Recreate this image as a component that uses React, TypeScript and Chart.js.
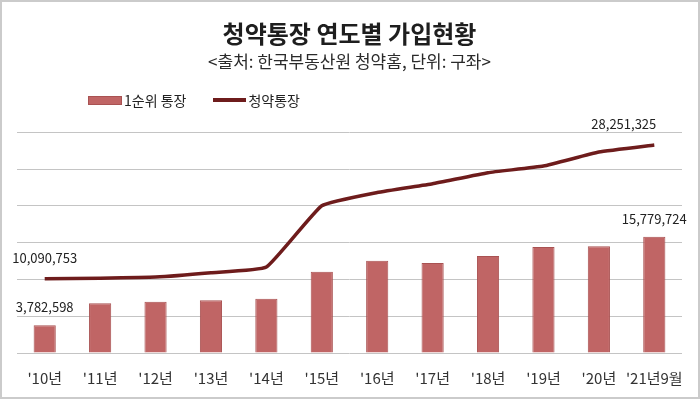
import React, { useEffect, useRef } from "react";
import { Chart, registerables } from "chart.js";

Chart.register(...registerables);

const categories = ["'10년", "'11년", "'12년", "'13년", "'14년", "'15년", "'16년", "'17년", "'18년", "'19년", "'20년", "'21년9월"];
const firstRankValues = [3782598, 6760000, 6950000, 7170000, 7360000, 11050000, 12550000, 12220000, 13170000, 14400000, 14500000, 15779724];
const totalValues = [10090753, 10170000, 10310000, 10900000, 11670000, 20000000, 21800000, 23000000, 24500000, 25400000, 27300000, 28251325];
const barLabel = "1순위 통장";
const lineLabel = "청약통장";
const titleText = "청약통장 연도별 가입현황";
const subtitleText = "<출처: 한국부동산원 청약홈, 단위: 구좌>";

const FONT = "'Noto Sans CJK KR', 'Noto Sans', sans-serif";
const BAR_COLOR = "#c06565";
const BAR_BORDER = "#a95252";
const LINE_COLOR = "#6e1c1c";

const fmt = (v: number) => v.toLocaleString("en-US");

const labelPlugin = {
  id: "endLabels",
  afterDatasetsDraw(chart: any) {
    const ctx = chart.ctx;
    ctx.save();
    ctx.font = `13px ${FONT}`;
    ctx.fillStyle = "#222";
    ctx.textBaseline = "middle";
    const barMeta = chart.getDatasetMeta(0);
    const lineMeta = chart.getDatasetMeta(1);
    const last = categories.length - 1;
    [0, last].forEach((i) => {
      const el = barMeta.data[i];
      ctx.textAlign = "center";
      ctx.fillText(fmt(firstRankValues[i]), el.x, el.y - 18);
    });
    const p0 = lineMeta.data[0];
    ctx.textAlign = "center";
    ctx.fillText(fmt(totalValues[0]), p0.x, p0.y - 21);
    const pl = lineMeta.data[last];
    ctx.textAlign = "right";
    ctx.fillText(fmt(totalValues[last]), pl.x + 2, pl.y - 21);
    ctx.restore();
  },
};

export default function App() {
  const ref = useRef<HTMLCanvasElement | null>(null);
  useEffect(() => {
    if (!ref.current) return;
    const chart = new Chart(ref.current, {
      data: {
        labels: categories,
        datasets: [
          {
            type: "bar",
            label: barLabel,
            data: firstRankValues,
            backgroundColor: BAR_COLOR,
            borderColor: BAR_BORDER,
            borderWidth: 1,
            barPercentage: 0.4,
            categoryPercentage: 1,
            order: 1,
          },
          {
            type: "line",
            label: lineLabel,
            data: totalValues,
            borderColor: LINE_COLOR,
            borderWidth: 3.5,
            pointRadius: 0,
            tension: 0.12,
            fill: false,
            order: 0,
          },
        ],
      } as any,
      options: {
        responsive: true,
        maintainAspectRatio: false,
        animation: false,
        layout: { padding: { left: 17, right: 18, top: 0, bottom: -4 } },
        plugins: {
          legend: { display: false },
          tooltip: { enabled: false },
          title: {
            display: true,
            text: titleText,
            color: "#1e1e1e",
            font: { family: FONT, size: 24, weight: "bold" },
            padding: { top: 19, bottom: 4 },
          },
          subtitle: {
            display: true,
            text: subtitleText,
            color: "#2a2a2a",
            font: { family: FONT, size: 17 },
            padding: { top: 0, bottom: 60 },
          },
        },
        scales: {
          x: {
            grid: { display: false, drawTicks: false },
            border: { display: false },
            ticks: { color: "#333", font: { family: FONT, size: 15 }, padding: 16, maxRotation: 0, autoSkip: false },
          },
          y: {
            min: 0,
            max: 30000000,
            ticks: { display: false, stepSize: 5000000 },
            grid: { color: "#c4c4c4", lineWidth: 1, drawTicks: false },
            border: { display: false },
          },
        },
      } as any,
      plugins: [labelPlugin],
    });
    return () => chart.destroy();
  }, []);

  return (
    <div style={{ position: "fixed", left: 0, top: 0, width: 700, height: 399, background: "#fff", fontFamily: FONT }}>
      <canvas ref={ref} style={{ position: "absolute", left: 0, top: 0 }} />
      <div style={{ position: "absolute", left: 88, top: 91, display: "flex", alignItems: "center", fontSize: 14, color: "#222", lineHeight: "18px" }}>
        <span style={{ display: "inline-block", width: 32, height: 7, background: BAR_COLOR, border: `1px solid ${BAR_BORDER}`, marginRight: 2 }} />
        <span>{barLabel}</span>
        <span style={{ display: "inline-block", width: 33, height: 3.5, background: LINE_COLOR, marginLeft: 27, marginRight: 2 }} />
        <span>{lineLabel}</span>
      </div>
      <div style={{ position: "absolute", left: 0, top: 0, width: 700, height: 399, boxSizing: "border-box", border: "2px solid #cbcbcb", pointerEvents: "none" }} />
    </div>
  );
}
